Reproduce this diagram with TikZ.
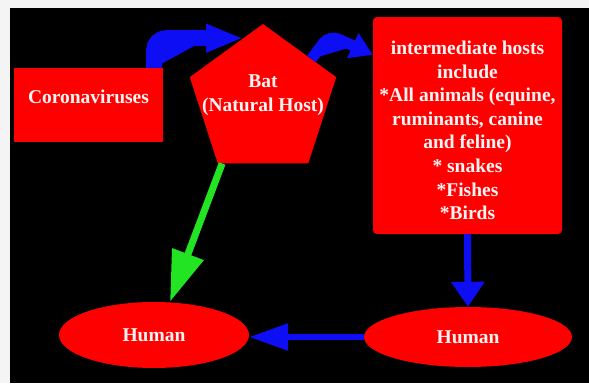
\documentclass[tikz,border=0pt]{standalone}
\usepackage{fontspec}
\setmainfont{Liberation Serif}
\usetikzlibrary{shapes.geometric,arrows.meta,calc}
\definecolor{bgred}{RGB}{255,0,0}
\definecolor{arrblue}{RGB}{14,14,245}
\definecolor{arrgreen}{RGB}{34,228,34}
\definecolor{frame}{RGB}{244,244,244}
\definecolor{txtwhite}{RGB}{255,244,244}
\begin{document}
\begin{tikzpicture}[x=1pt,y=-1pt,
  txt/.style={text=txtwhite,font=\rmfamily\bfseries\fontsize{19.5}{23.6}\selectfont,align=center},
  redshape/.style={fill=bgred,draw=none,inner sep=0pt},
  bluearrow/.style={draw=arrblue,fill=arrblue},
  greenarrow/.style={draw=arrgreen,fill=arrgreen},
]
\fill[frame] (0,0) rectangle (589,383);
\fill[black] (10,8) rectangle (589,383);
\useasboundingbox (0,0) rectangle (589,383);

% nodes
\node[redshape,txt,minimum width=149pt,minimum height=74pt,text depth=16pt] (corona) at (88.5,105) {Coronaviruses};
\node[redshape,regular polygon,regular polygon sides=5,minimum size=154pt] (bat) at (263,101) {};
\node[txt] (battext) at (263,95) {Bat\\(Natural Host)};
\node[redshape,rounded corners=4pt,minimum width=189pt,minimum height=217pt] (inter) at (467.5,125.5) {};
\node[txt] (intertext) at (467.5,130.5) {intermediate hosts\\include\\*All animals (equine,\\ruminants, canine\\and feline)\\* snakes\\*Fishes\\*Birds};
\node[redshape,ellipse,minimum width=190pt,minimum height=66pt,txt] (left) at (154,335) {Human};
\node[redshape,ellipse,minimum width=208pt,minimum height=60pt,txt] (right) at (468,337) {Human};

% connectors
\coordinate (t1) at ($(bat.corner 1)!0.27!(bat.corner 2)$);
\draw[bluearrow,line width=16pt,rounded corners=12pt,-{Triangle[length=37pt,width=26pt]}]
  ([xshift=-9pt]corona.north east) |- (t1);
\coordinate (s2) at ($(bat.corner 1)!0.66!(bat.corner 5)$);
\coordinate (t2) at ([yshift=-38pt]inter.north west);
\draw[bluearrow,line width=11pt,rounded corners=10pt,-{Triangle[length=22pt,width=26pt]}]
  (s2) -- ++(18,-24) -- (t2);
\draw[bluearrow,line width=7pt,-{Triangle[length=25pt,width=32pt]}]
  (inter.south) -- (right.north);
\draw[bluearrow,line width=6pt,-{Triangle[length=39pt,width=26pt]}]
  (right.west) -- (right.west -| left.east);
\coordinate (s3) at ($(bat.corner 3)!0.05!(bat.corner 4)$);
\draw[greenarrow,line width=7pt,-{Triangle[length=51pt,width=32pt]}]
  (s3) -- ([xshift=16pt]left.north);
\end{tikzpicture}
\end{document}
